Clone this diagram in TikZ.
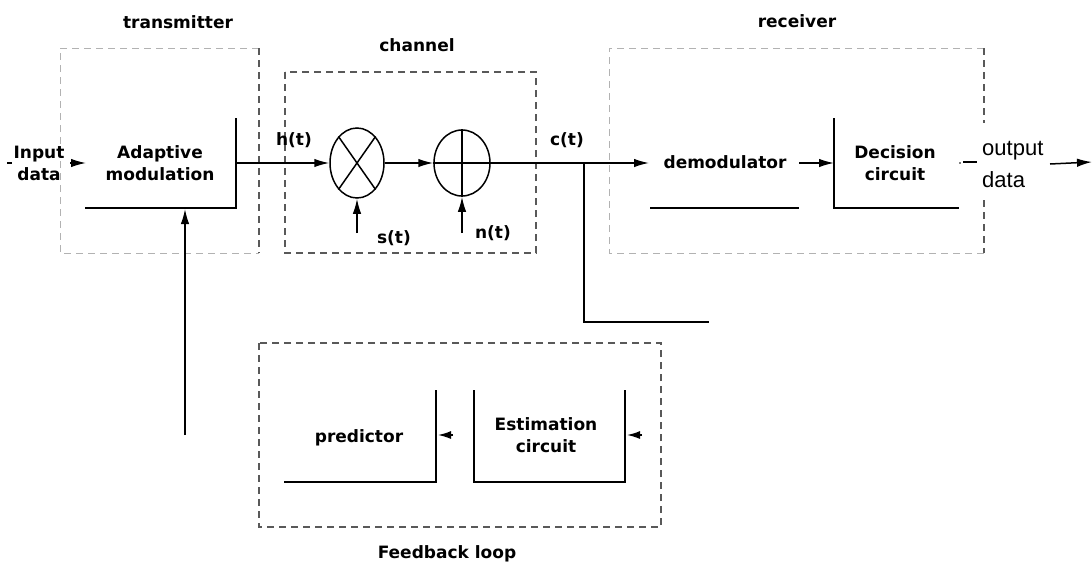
\documentclass[tikz,border=0pt]{standalone}
\usepackage{fontspec}
\setmainfont{DejaVu Sans}
\newfontfamily\outfont{Liberation Sans}
\usetikzlibrary{shapes.geometric,arrows.meta}
\begin{document}
\begin{tikzpicture}[x=1pt,y=-1pt,
  lbl/.style={font=\fontsize{17}{22}\selectfont\bfseries, inner sep=0pt, anchor=base, align=center},
  wire/.style={line width=1.5pt},
  arr/.style={wire,-{Latex[length=15pt,width=8.5pt]}},
  sarr/.style={wire,-{Latex[length=13pt,width=8pt]}},
  lightbox/.style={draw=black!30, line width=1pt, dash pattern=on 7pt off 5pt},
  darkbox/.style={draw=black!65, line width=1.2pt, dash pattern=on 7pt off 5pt},
  sum/.style={draw, ellipse, line width=1.5pt, inner sep=0pt},
]
\useasboundingbox (0,0) rectangle (1092,565);

% dashed group boxes
\draw[lightbox] (259,48) -- (60,48) -- (60,253) -- (259,253);
\draw[darkbox] (259,48) -- (259,253);
\draw[darkbox] (285,72) rectangle (536,253);
\draw[lightbox] (984,48) -- (609,48) -- (609,253) -- (984,253);
\draw[darkbox] (984,48) -- (984,123) (984,200) -- (984,253);
\draw[darkbox] (259,343) rectangle (661,527);

% group labels
\node[lbl] (ttx) at (178,28) {transmitter};
\node[lbl] (tch) at (417,51) {channel};
\node[lbl] (trx) at (797,27) {receiver};
\node[lbl] (tfb) at (447,558) {Feedback loop};

% block labels (base = baseline of last line)
\node[lbl] (in) at (39,180) {Input\\data};
\node[lbl] (am) at (160,180) {Adaptive\\modulation};
\node[lbl] (demod) at (725,168) {demodulator};
\node[lbl] (dec) at (895,180) {Decision\\circuit};
\node[lbl] (pred) at (359,442) {predictor};
\node[lbl] (est) at (546,452) {Estimation\\circuit};
\node[lbl] (ht) at (294,145) {h(t)};
\node[lbl] (ct) at (567,145) {c(t)};
\node[lbl] (st) at (394,243) {s(t)};
\node[lbl] (nt) at (493,238) {n(t)};
\node[font=\outfont\fontsize{22}{32}\selectfont, anchor=base west, align=left, inner sep=0pt] (out) at (982,187) {output\\data};

% multiplier and adder
\node[sum, minimum width=54pt, minimum height=70pt] (mult) at (357,163) {};
\node[sum, minimum width=56pt, minimum height=66pt] (add) at (462,163) {};
\draw[wire] (mult.55) -- (mult.235) (mult.125) -- (mult.305);
\draw[wire] (add.north) -- (add.south) (add.west) -- (add.east);

% coordinates of open blocks
\coordinate (amTop) at (236,118);
\coordinate (amBot) at (236,208);
\coordinate (amBL) at (85,208);
\coordinate (amOut) at (236,163);
\coordinate (inA) at (7,163);
\coordinate (inB) at (12,163);
\coordinate (inC) at (70,163);
\coordinate (amIn) at (86,163);
\coordinate (jn) at (584,163);
\coordinate (demIn) at (649,163);
\coordinate (demBL) at (650,208);
\coordinate (demBR) at (799,208);
\coordinate (demOut) at (799,163);
\coordinate (decIn) at (834,163);
\coordinate (decTop) at (834,118);
\coordinate (decBot) at (834,208);
\coordinate (decBR) at (959,208);
\coordinate (decOutA) at (963,162);
\coordinate (decOutB) at (977,162);
\coordinate (oA) at (1050,164);
\coordinate (oB) at (1092,162);
\coordinate (sIn) at (357,233);
\coordinate (nIn) at (462,233);
\coordinate (brA) at (584,322);
\coordinate (brB) at (709,322);
\coordinate (fbBot) at (185,435);
\coordinate (fbTop) at (185,209);
\coordinate (prTop) at (436,390);
\coordinate (prBot) at (436,482);
\coordinate (prBL) at (284,482);
\coordinate (prIn) at (438,435);
\coordinate (prInS) at (453,435);
\coordinate (esTL) at (474,390);
\coordinate (esBL) at (474,482);
\coordinate (esBR) at (625,482);
\coordinate (esTR) at (625,390);
\coordinate (esIn) at (627,435);
\coordinate (esInS) at (642,435);

% transmitter
\draw[wire] (inA) -- (inB);
\draw[arr] (inC) -- (amIn);
\draw[wire] (amTop) -- (amBot) -- (amBL);
\draw[arr] (amOut) -- (mult.west);

% channel
\draw[arr] (mult.east) -- (add.west);
\draw[arr] (sIn) -- (mult.south);
\draw[arr] (nIn) -- (add.south);
\draw[wire] (add.east) -- (jn);

% receiver
\draw[arr] (jn) -- (demIn);
\draw[wire] (demBL) -- (demBR);
\draw[arr] (demOut) -- (decIn);
\draw[wire] (decTop) -- (decBot) -- (decBR);
\fill (960,163) circle (0.8pt);
\draw[wire] (decOutA) -- (decOutB);
\draw[arr] (oA) -- (oB);

% feedback
\draw[wire] (jn) -- (brA) -- (brB);
\draw[arr] (fbBot) -- (fbTop);
\draw[wire] (prTop) -- (prBot) -- (prBL);
\draw[sarr] (prInS) -- (prIn);
\draw[wire] (esTL) -- (esBL) -- (esBR) -- (esTR);
\draw[sarr] (esInS) -- (esIn);
\end{tikzpicture}
\end{document}
